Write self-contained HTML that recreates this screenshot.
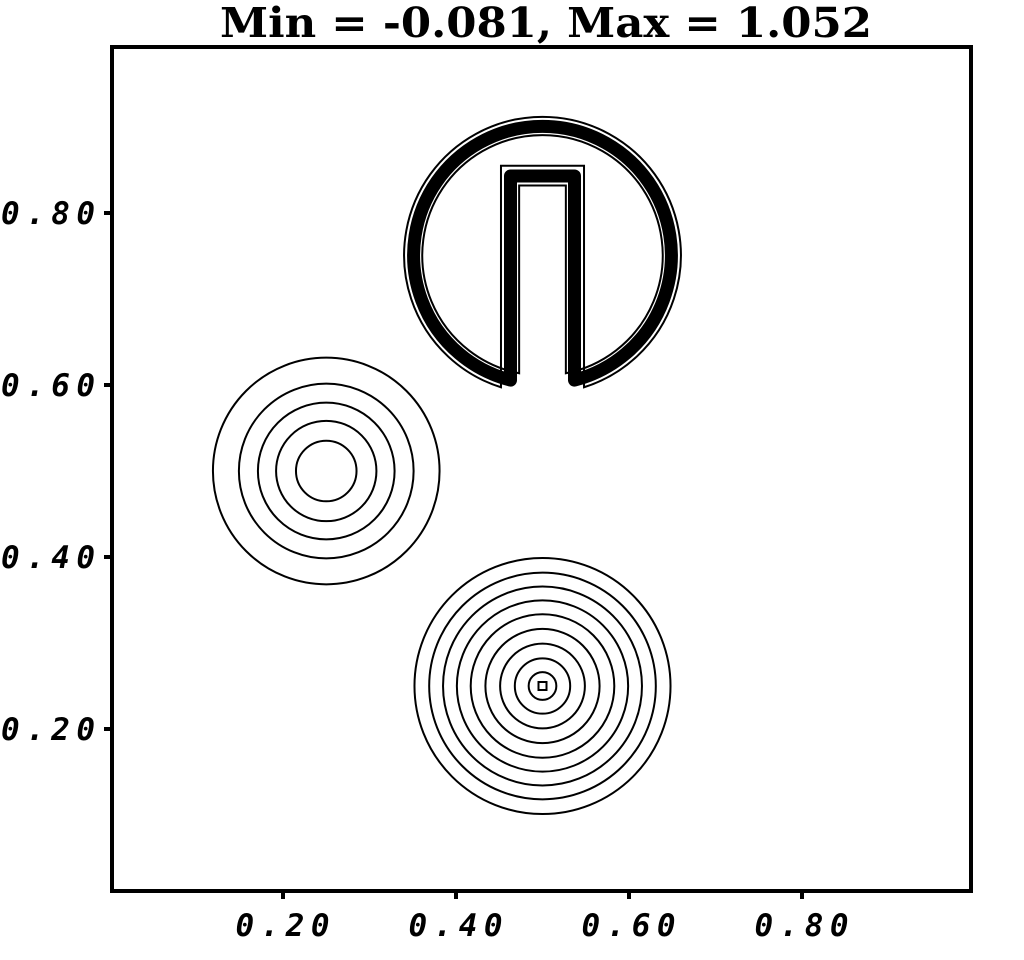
<!DOCTYPE html>
<html><head><meta charset="utf-8"><style>
html,body{margin:0;padding:0;background:#fff;}
svg{display:block;}
.tk{font-family:"DejaVu Sans Mono","Liberation Mono",monospace;font-weight:bold;font-style:italic;font-size:31px;letter-spacing:3px;fill:#000;}
</style></head><body>
<svg id="chart" width="1024" height="960" viewBox="0 0 1024 960">
<text x="546" y="37" text-anchor="middle" font-family="'DejaVu Serif','Liberation Serif',serif" font-weight="bold" font-size="41" textLength="652" lengthAdjust="spacingAndGlyphs">Min = -0.081, Max = 1.052</text>
<rect x="112" y="47" width="859" height="844" fill="none" stroke="#000" stroke-width="4"/>
<g id="ticks"></g>
<g id="marks"></g>
</svg>
<script>
const xTicks=[0.2,0.4,0.6,0.8];
const yTicks=[0.2,0.4,0.6,0.8];
const tickLabels=["0.20","0.40","0.60","0.80"];
const coneCenter=[0.5,0.25];
const coneRadii=[0.148,0.131,0.115,0.099,0.083,0.066,0.049,0.032,0.016];
const gaussCenter=[0.25,0.5];
const gaussRadii=[0.131,0.101,0.079,0.058,0.035];
const diskCenter=[0.5,0.75];
const diskRadius=0.149;
const slotHalfWidth=0.037;
const slotTop=0.843;

const sx=v=>110+865*v;
const sy=v=>901-860*v;
const NS="http://www.w3.org/2000/svg";
const tg=document.getElementById('ticks'), mg=document.getElementById('marks');
function mk(tag,attrs,parent){const e=document.createElementNS(NS,tag);for(const k in attrs)e.setAttribute(k,attrs[k]);parent.appendChild(e);return e;}

xTicks.forEach((t,i)=>{
  const l=mk('line',{x1:sx(t),x2:sx(t),y1:891,y2:899,stroke:'#000','stroke-width':4},tg);
  
  
  const tx=mk('text',{x:sx(t)+1,y:936,'text-anchor':'middle',class:'tk',textLength:97,lengthAdjust:'spacing'},tg);
  tx.textContent=tickLabels[i];
  
  
});
yTicks.forEach((t,i)=>{
  const l=mk('line',{x1:104,x2:112,y1:sy(t),y2:sy(t),stroke:'#000','stroke-width':4},tg);
  
  
  const tx=mk('text',{x:1,y:sy(t)+11,'text-anchor':'start',class:'tk',textLength:97,lengthAdjust:'spacing'},tg);
  tx.textContent=tickLabels[i];
  
  
});

const k=865;
gaussRadii.forEach(r=>{
  const c=mk('circle',{cx:sx(gaussCenter[0]),cy:sy(gaussCenter[1]),r:r*k,fill:'none',stroke:'#000','stroke-width':2},mg);
  
  
});
coneRadii.forEach(r=>{
  const c=mk('circle',{cx:sx(coneCenter[0]),cy:sy(coneCenter[1]),r:r*k,fill:'none',stroke:'#000','stroke-width':2},mg);
  
  
});
const sq=mk('rect',{x:sx(coneCenter[0])-4,y:sy(coneCenter[1])-4,width:8,height:8,fill:'none',stroke:'#000','stroke-width':2},mg);



function diskPath(dr,dw,dt){
  const R=(diskRadius+dr), w=slotHalfWidth+dw;
  const cx=diskCenter[0], cy=diskCenter[1];
  const yb=cy-Math.sqrt(R*R-w*w);
  const rp=R*k;
  return `M${sx(cx-w)},${sy(yb)} L${sx(cx-w)},${sy(slotTop+dt)} L${sx(cx+w)},${sy(slotTop+dt)} L${sx(cx+w)},${sy(yb)} A${rp},${rp} 0 1 0 ${sx(cx-w)},${sy(yb)} Z`;
}
const thick=mk('path',{d:diskPath(0,0,0),fill:'none',stroke:'#000','stroke-width':13,'stroke-linejoin':'round'},mg);


[[0.011,0.011,0.012],[-0.01,-0.01,-0.011]].forEach(d=>{
  const p=mk('path',{d:diskPath(d[0],d[1],d[2]),fill:'none',stroke:'#000','stroke-width':2},mg);
  
  
});
</script>
</body></html>
